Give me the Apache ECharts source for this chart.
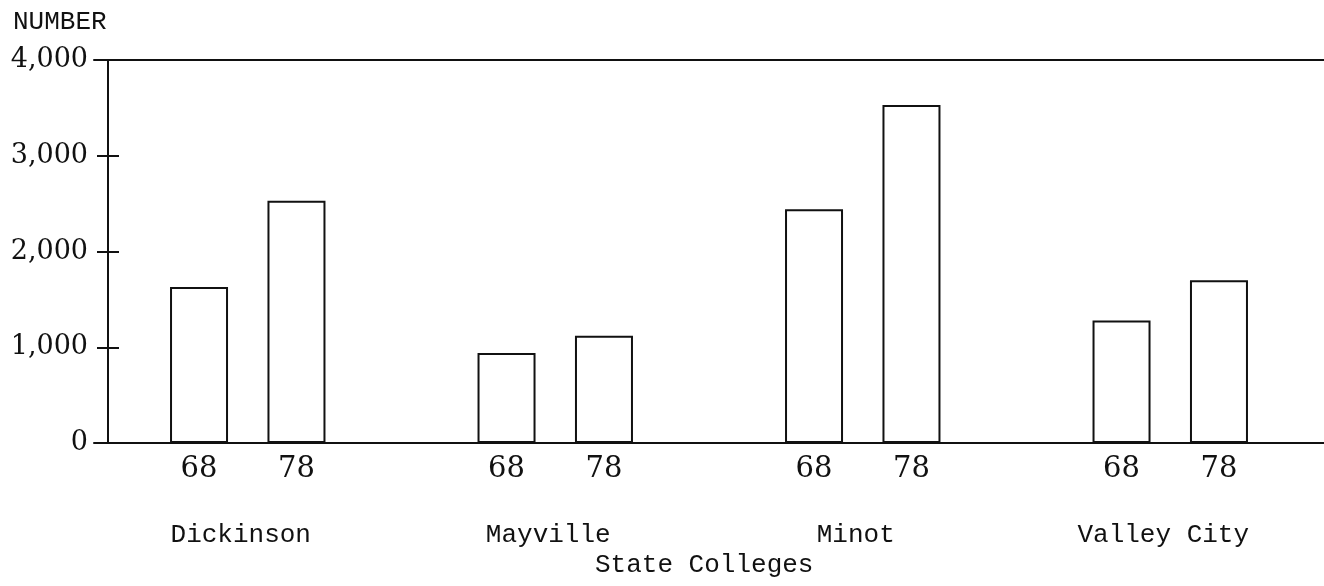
<html>
<head>
    <meta http-equiv="Content-Type" content="text/html; charset=utf-8">
    <script src="https://cdn.jsdelivr.net/npm/echarts@6/dist/echarts.min.js"></script>
    <style>
        * {
            margin: 0;
            padding: 0;
        }

        body {
            background: #fff;
        }

        #main {
            width: 1324px;
            height: 586px;
        }
    </style>
</head>
<body>
<div id="main"></div>
<script type="text/javascript">
    // colleges along the bottom, two years per college
    let colleges = ['Dickinson', 'Mayville', 'Minot', 'Valley City'];
    let years = ['68', '78'];
    let values68 = [1630, 940, 2440, 1280];
    let values78 = [2530, 1120, 3530, 1700];
    let yTicks = [0, 1000, 2000, 3000, 4000];

    let ink = '#111';
    let numFont = 'DejaVu Serif';
    let typeFont = 'Liberation Mono';

    function barSeries(name, data) {
        return {
            name: name,
            type: 'bar',
            barWidth: 58,
            barGap: '68%',
            data: data,
            itemStyle: {color: '#fff', borderColor: ink, borderWidth: 2},
            label: {
                show: true,
                position: 'bottom',
                distance: 12,
                formatter: name,
                color: ink,
                fontFamily: numFont,
                fontSize: 29
            },
            silent: true
        };
    }

    let myChart = echarts.init(document.getElementById('main'));
    let option = {
        animation: false,
        backgroundColor: '#fff',
        title: [
            {
                text: 'NUMBER', left: 8, top: 4,
                textStyle: {fontFamily: typeFont, fontWeight: 'normal', fontSize: 26, color: ink}
            },
            {
                text: 'State Colleges', left: 590, top: 547,
                textStyle: {fontFamily: typeFont, fontWeight: 'normal', fontSize: 26, color: ink}
            }
        ],
        grid: {left: 94, right: -4, top: 60, bottom: 143},
        xAxis: [
            {
                type: 'category',
                data: colleges,
                axisLine: {lineStyle: {color: ink, width: 2}},
                axisTick: {show: false},
                axisLabel: {
                    margin: 79, color: ink, fontFamily: typeFont, fontWeight: 'normal', fontSize: 26,
                    padding: [0, 14, 0, 0]
                }
            },
            {
                type: 'category',
                position: 'top',
                data: colleges,
                axisLine: {onZero: false, lineStyle: {color: ink, width: 2}},
                axisTick: {show: false},
                axisLabel: {show: false}
            }
        ],
        yAxis: [
            {
                type: 'value',
                min: yTicks[0],
                max: yTicks[yTicks.length - 1],
                interval: 1000,
                offset: -14,
                axisLine: {show: true, lineStyle: {color: ink, width: 2}},
                axisTick: {show: true, length: 11, lineStyle: {color: ink, width: 2}},
                splitLine: {show: false},
                axisLabel: {
                    margin: 20,
                    color: ink,
                    fontFamily: numFont,
                    fontSize: 27,
                    formatter: function (v) {
                        return v.toLocaleString('en-US');
                    }
                }
            },
            {
                type: 'value',
                position: 'left',
                min: yTicks[0],
                max: yTicks[yTicks.length - 1],
                interval: 1000,
                offset: -14,
                axisLine: {show: false},
                axisTick: {show: true, inside: true, length: 11, lineStyle: {color: ink, width: 2}},
                splitLine: {show: false},
                axisLabel: {show: false}
            }
        ],
        series: [
            barSeries(years[0], values68),
            barSeries(years[1], values78)
        ]
    };
    myChart.setOption(option);
</script>
</body>
</html>
